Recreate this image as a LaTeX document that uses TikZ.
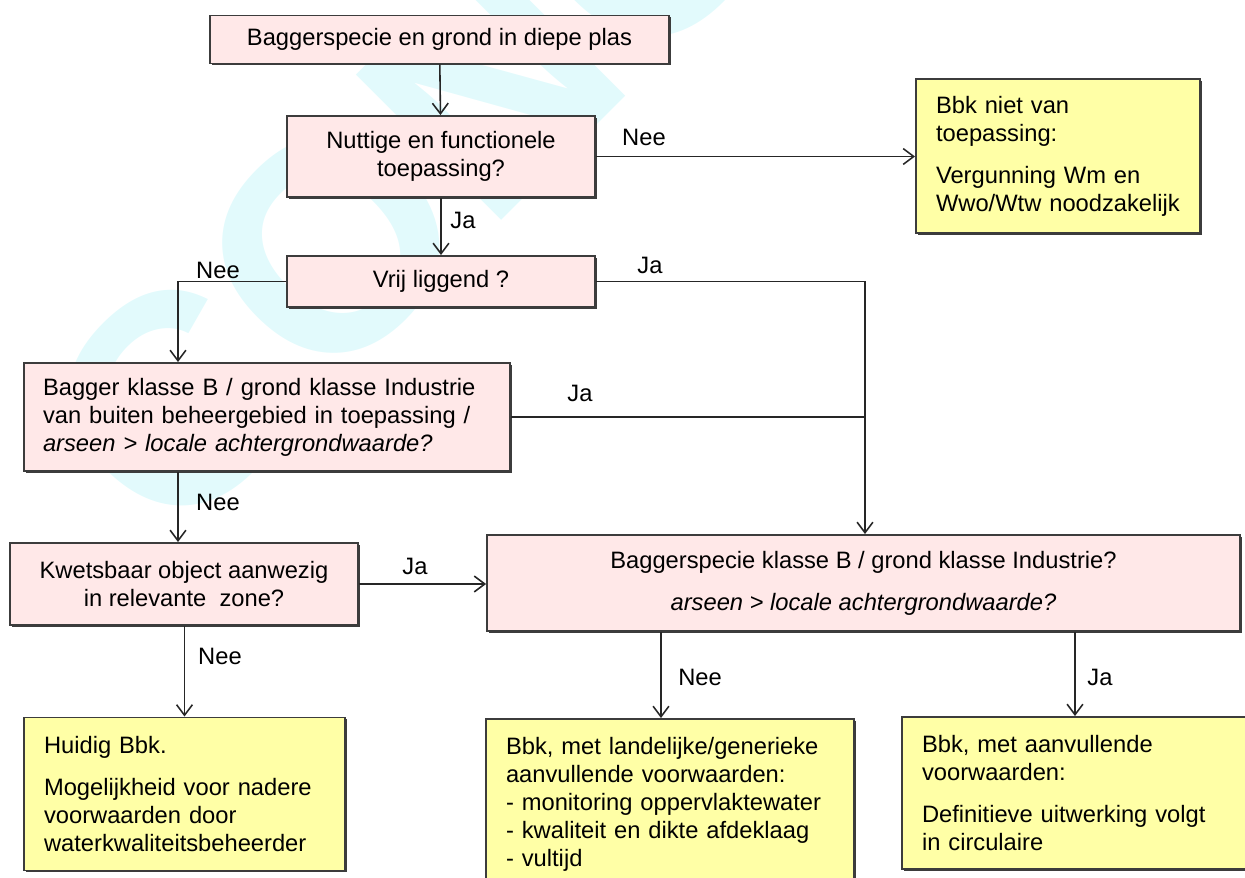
\documentclass[tikz,border=0pt]{standalone}
\usepackage{fontspec}
\setmainfont{Liberation Sans}
\usetikzlibrary{arrows.meta,shadows}
\definecolor{roze}{HTML}{FFE8E8}
\definecolor{geel}{HTML}{FFFFA6}
\definecolor{rand}{HTML}{3C3C3C}
\definecolor{watermerk}{HTML}{E2FAFC}
\tikzset{
  vak/.style={draw=rand, line width=1.1pt, fill=roze, inner sep=0pt,
    drop shadow={shadow xshift=1.1pt, shadow yshift=-1.1pt, fill=rand, opacity=1}},
  geelvak/.style={vak, fill=geel, align=left, inner xsep=0.4cm},
  pijl/.style={-{Straight Barb[length=6pt,width=9pt]}, line width=0.9pt, draw=black!85},
  lijn/.style={line width=0.9pt, draw=black!85}
}
\begin{document}
\begin{tikzpicture}[x=0.02cm, y=-0.02cm, font=\fontsize{13.5}{15.9}\selectfont]
        \useasboundingbox (0,0) rectangle (1245,877);
        % Watermerk
        \begin{scope}
            \clip (0,0) rectangle (1245,877);
            \node[anchor=base west, rotate=45, inner sep=0pt, text=watermerk,
                  font=\fontsize{170}{170}\selectfont\bfseries] (concept) at (170,552) {CONCEPT};
        \end{scope}
        % Vragen
        \node[vak, minimum width=9.18cm, minimum height=0.96cm] (start) at (439.5,39.5) {Baggerspecie en grond in diepe plas};
        \node[vak, minimum width=6.16cm, minimum height=1.62cm, align=center] (nuttig) at (441,156.5) {Nuttige en functionele\\toepassing?};
        \node[vak, minimum width=6.16cm, minimum height=1.02cm] (vrij) at (441,281.5) {Vrij liggend ?};
        \node[vak, minimum height=2.16cm, align=left, inner xsep=0.38cm, text width=8.96cm] (bagger) at (267,417) {Bagger klasse B / grond klasse Industrie\\van buiten beheergebied in toepassing /\\\textit{arseen > locale achtergrondwaarde?}};
        \node[vak, minimum width=6.96cm, minimum height=1.64cm, align=center] (kwets) at (184,584) {Kwetsbaar object aanwezig\\in relevante\ \ zone?};
        \node[vak, minimum width=15.06cm, minimum height=1.92cm, align=center] (bagspec) at (863.5,583) {Baggerspecie klasse B / grond klasse Industrie?\\[8pt]\textit{arseen > locale achtergrondwaarde?}};
        % Uitkomsten
        \node[geelvak, minimum height=3.08cm, text width=4.88cm] (bbkniet) at (1058,156) {Bbk niet van\\toepassing:\\[8pt]Vergunning Wm en\\Wwo/Wtw noodzakelijk};
        \node[geelvak, minimum height=3.06cm, text width=5.62cm] (huidig) at (184.5,794) {Huidig Bbk.\\[8pt]Mogelijkheid voor nadere\\voorwaarden door\\waterkwaliteitsbeheerder};
        \node[geelvak, minimum height=3.4cm, text width=6.56cm] (landelijk) at (670,804) {Bbk, met landelijke/generieke\\aanvullende voorwaarden:\\- monitoring oppervlaktewater\\- kwaliteit en dikte afdeklaag\\- vultijd};
        \node[geelvak, minimum height=3.04cm, text width=6.26cm] (aanvullend) at (1078.5,793) {Bbk, met aanvullende\\voorwaarden:\\[8pt]Definitieve uitwerking volgt\\in circulaire};
        % Knikpunten
        \coordinate (links) at (178,0);
        \coordinate (rechts) at (865,0);
        \coordinate (nee3) at (661,0);
        \coordinate (ja3) at (1075,0);
        % Pijlen
        \draw[pijl] (start) -- (nuttig);
        \draw[pijl] (nuttig) -- (vrij);
        \draw[pijl] (nuttig.east) -- (nuttig.east -| bbkniet.west);
        \draw[pijl] (vrij.west) -- (vrij.west -| links) -- (bagger.north -| links);
        \draw[pijl] (vrij.east) -- (vrij.east -| rechts) -- (bagspec.north -| rechts);
        \draw[lijn] (bagger.east) -- (bagger.east -| rechts);
        \draw[pijl] (bagger.south -| links) -- (kwets.north -| links);
        \draw[pijl] (kwets.east) -- (kwets.east -| bagspec.west);
        \draw[pijl] (kwets.south -| huidig.north) -- (huidig.north);
        \draw[pijl] (bagspec.south -| nee3) -- (landelijk.north -| nee3);
        \draw[pijl] (bagspec.south -| ja3) -- (aanvullend.north -| ja3);
        % Antwoorden
        \node (nee1) at (644,137) {Nee};
        \node (ja1) at (463,220) {Ja};
        \node (nee2) at (218,270) {Nee};
        \node (ja2) at (650,265) {Ja};
        \node (ja4) at (580,393) {Ja};
        \node (nee4) at (218,502) {Nee};
        \node (ja5) at (415,566) {Ja};
        \node (nee5) at (220,656) {Nee};
        \node (nee6) at (700,677) {Nee};
        \node (ja6) at (1100,677) {Ja};
    \end{tikzpicture}
\end{document}
